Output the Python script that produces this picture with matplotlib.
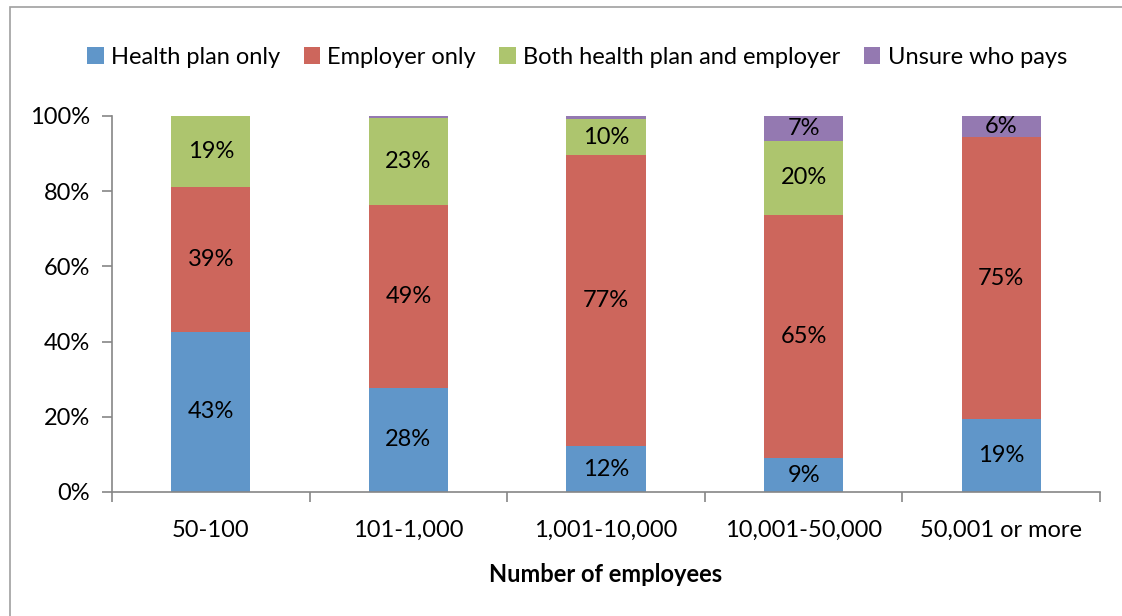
import matplotlib
matplotlib.use("Agg")
import matplotlib.pyplot as plt
from matplotlib.patches import Rectangle
import numpy as np

categories = ["50-100", "101-1,000", "1,001-10,000", "10,001-50,000", "50,001 or more"]
series_names = ["Health plan only", "Employer only",
                "Both health plan and employer", "Unsure who pays"]
health_plan = [42.6, 27.7, 12.2, 9.0, 19.4]
employer = [38.6, 48.6, 77.3, 64.8, 75.0]
both = [18.8, 23.2, 9.7, 19.6, 0.0]
unsure = [0.0, 0.5, 0.8, 6.6, 5.6]

colors = ["#6096C9", "#CD665C", "#ADC56E", "#9479B1"]
GREY = "#868686"
FS = 17

plt.rcParams["font.family"] = ["Lato", "DejaVu Sans"]

fig = plt.figure(figsize=(11.22, 6.16), dpi=100)
W, H = 1122, 616
ax = fig.add_axes([112 / W, 1 - 492 / H, (1100 - 112) / W, (492 - 116) / H])

# chart area border
fig.patches.append(Rectangle((10 / W, -0.1), 1.2, 1 - 7 / H + 0.1,
                             transform=fig.transFigure, fill=False,
                             edgecolor="#A0A0A0", lw=1.2))

x = np.arange(len(categories))
bottom = np.zeros(len(categories))
for name, vals, c in zip(series_names, [health_plan, employer, both, unsure], colors):
    vals = np.array(vals)
    ax.bar(x, vals, 0.4, bottom=bottom, color=c, label=name, linewidth=0)
    for xi, v, b in zip(x, vals, bottom):
        if v >= 5:
            ax.text(xi, b + v / 2, f"{v:.0f}%", ha="center", va="center",
                    fontsize=FS, color="black")
    bottom += vals

ax.set_xlim(-0.5, len(categories) - 0.5)
ax.set_ylim(0, 100)
ax.set_yticks(range(0, 101, 20))
ax.set_yticklabels([f"{v}%" for v in range(0, 101, 20)], fontsize=FS)
ax.set_xticks(x)
ax.set_xticklabels(categories, fontsize=FS)
ax.set_xticks(np.arange(-0.5, len(categories)), minor=True)
ax.tick_params(axis="x", which="major", length=0, pad=20)
ax.tick_params(axis="x", which="minor", length=7, color=GREY, width=1.2)
ax.tick_params(axis="y", length=7, color=GREY, width=1.2, pad=9)
for s in ["top", "right"]:
    ax.spines[s].set_visible(False)
for s in ["left", "bottom"]:
    ax.spines[s].set_color(GREY)
    ax.spines[s].set_linewidth(1.2)

ax.set_xlabel("Number of employees", fontsize=FS, fontweight="bold", labelpad=16)

fig.legend(loc="center", bbox_to_anchor=(577 / W, 1 - 57 / H), ncol=4,
           frameon=False, fontsize=FS, handlelength=0.7, handleheight=0.7,
           handletextpad=0.3, columnspacing=1.0)

fig.savefig("out.png", dpi=100)
